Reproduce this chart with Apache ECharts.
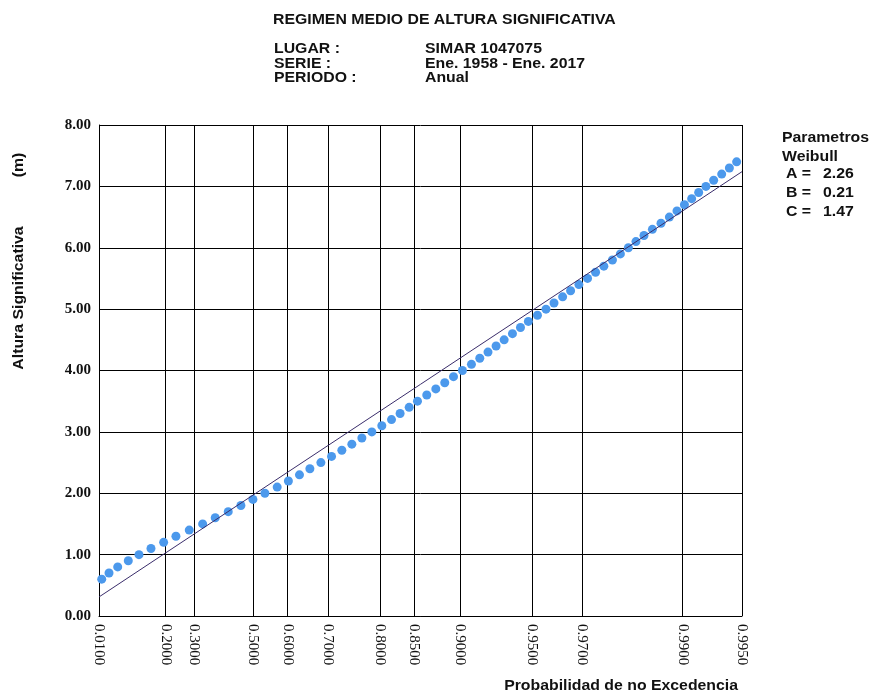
<!DOCTYPE html>
<html><head><meta charset="utf-8">
<script src="https://cdn.jsdelivr.net/npm/echarts@6/dist/echarts.min.js"></script>
<style>html,body{margin:0;padding:0;background:#fff}#c{width:869px;height:693px}</style>
</head><body><div id="c"></div>
<script>
// Weibull parameters (from the chart)
const weibullLabels = ['A =', 'B =', 'C ='];
const weibullValues = [2.26, 0.21, 1.47];
const SHAPE = weibullValues[2];

// Probability ticks (x axis)
const probTicks = [0.01, 0.2, 0.3, 0.5, 0.6, 0.7, 0.8, 0.85, 0.9, 0.95, 0.97, 0.99, 0.995];
const heightTicks = [0, 1, 2, 3, 4, 5, 6, 7, 8];

// Observed points: significant height (m) and probability of non-exceedance
const obsHeight = [0.6,0.7,0.8,0.9,1.0,1.1,1.2,1.3,1.4,1.5,1.6,1.7,1.8,1.9,2.0,2.1,2.2,2.3,2.4,2.5,2.6,2.7,2.8,2.9,3.0,3.1,3.2,3.3,3.4,3.5,3.6,3.7,3.8,3.9,4.0,4.1,4.2,4.3,4.4,4.5,4.6,4.7,4.8,4.9,5.0,5.1,5.2,5.3,5.4,5.5,5.6,5.7,5.8,5.9,6.0,6.1,6.2,6.3,6.4,6.5,6.6,6.7,6.8,6.9,7.0,7.1,7.2,7.3,7.4];
const obsProb = [0.0146,0.0293,0.0502,0.0793,0.1117,0.1507,0.1938,0.2367,0.2837,0.3309,0.3746,0.4188,0.4606,0.4988,0.5354,0.5713,0.6025,0.6318,0.6580,0.6842,0.7082,0.7301,0.7501,0.7690,0.7867,0.8033,0.8184,0.8310,0.8435,0.8543,0.8656,0.8759,0.8854,0.8941,0.9024,0.9102,0.9169,0.9231,0.9288,0.9341,0.9392,0.9438,0.9480,0.9525,0.9564,0.9598,0.9632,0.9661,0.9689,0.9716,0.9739,0.9761,0.9782,0.98000,0.98166,0.98312,0.98455,0.98593,0.98722,0.98837,0.98933,0.99020,0.99098,0.99168,0.99235,0.99301,0.99364,0.99419,0.99467];

// Fitted Weibull line (end points)
const fitProb = [0.01, 0.995];
const fitHeight = [0.31, 7.24];

// Weibull probability-paper scale
function U(p){ return Math.pow(-Math.log(1 - p), 1 / SHAPE); }
function P(u){ return 1 - Math.exp(-Math.pow(u, SHAPE)); }

const tickU = probTicks.map(U);
const chart = echarts.init(document.getElementById('c'));
const sans = 'Liberation Sans, Arial, sans-serif';
const serif = 'Liberation Serif, Times New Roman, serif';
const SX = 1.13;
function txt(x, y, s, opts) {
  opts = opts || {};
  return {type:'text', x:x, y:y, rotation: opts.rotation || 0, scaleX: SX,
    style:{text:s, font:'bold 14px ' + sans, fill:'#111', textAlign: opts.align || 'left', textVerticalAlign:'middle'}};
}

const graphics = [
  txt(273, 20, 'REGIMEN MEDIO DE ALTURA SIGNIFICATIVA'),
  txt(274, 49.5, 'LUGAR :'), txt(274, 64, 'SERIE :'), txt(274, 78.5, 'PERIODO :'),
  txt(425, 49.5, 'SIMAR 1047075'), txt(425, 64, 'Ene. 1958 - Ene. 2017'), txt(425, 78.5, 'Anual'),
  txt(782, 138, 'Parametros'), txt(782, 157, 'Weibull'),
  txt(19, 298, 'Altura Significativa', {rotation: Math.PI/2, align:'center'}),
  txt(19, 165, '(m)', {rotation: Math.PI/2, align:'center'}),
  txt(738, 686, 'Probabilidad de no Excedencia', {align:'right'})
];
weibullLabels.forEach((l, i) => {
  graphics.push(txt(786, 174 + i * 19, l));
  graphics.push(txt(823, 174 + i * 19, weibullValues[i].toFixed(2)));
});

chart.setOption({
  animation: false,
  backgroundColor: '#fff',
  grid: {left: 99, right: 127, top: 125, bottom: 77, containLabel: false},
  xAxis: {
    type: 'value', min: tickU[0], max: tickU[tickU.length - 1],
    axisLine: {show: true, lineStyle: {color: '#000', width: 1}},
    axisTick: {show: false, customValues: tickU},
    axisLabel: {customValues: tickU, rotate: -90, margin: 8, showMinLabel: true, showMaxLabel: true,
      fontFamily: serif, fontSize: 15, color: '#111',
      formatter: v => P(v).toFixed(4)},
    splitLine: {show: true, lineStyle: {color: '#000', width: 1}}
  },
  yAxis: {
    type: 'value', min: heightTicks[0], max: heightTicks[heightTicks.length - 1], interval: 1,
    axisLine: {show: true, lineStyle: {color: '#000', width: 1}},
    axisTick: {show: false},
    axisLabel: {margin: 8, fontFamily: serif, fontWeight: 'bold', fontSize: 15, color: '#111',
      formatter: v => v.toFixed(2)},
    splitLine: {show: true, lineStyle: {color: '#000', width: 1}}
  },
  series: [
    {type: 'line', data: fitProb.map((p, i) => [U(p), fitHeight[i]]), symbol: 'none',
      lineStyle: {color: '#3a2d6b', width: 1}, z: 3},
    {type: 'scatter', data: obsProb.map((p, i) => [U(p), obsHeight[i]]), symbolSize: 9,
      itemStyle: {color: '#4c99ec', opacity: 1}, z: 2}
  ],
  graphic: graphics
});
</script></body></html>
